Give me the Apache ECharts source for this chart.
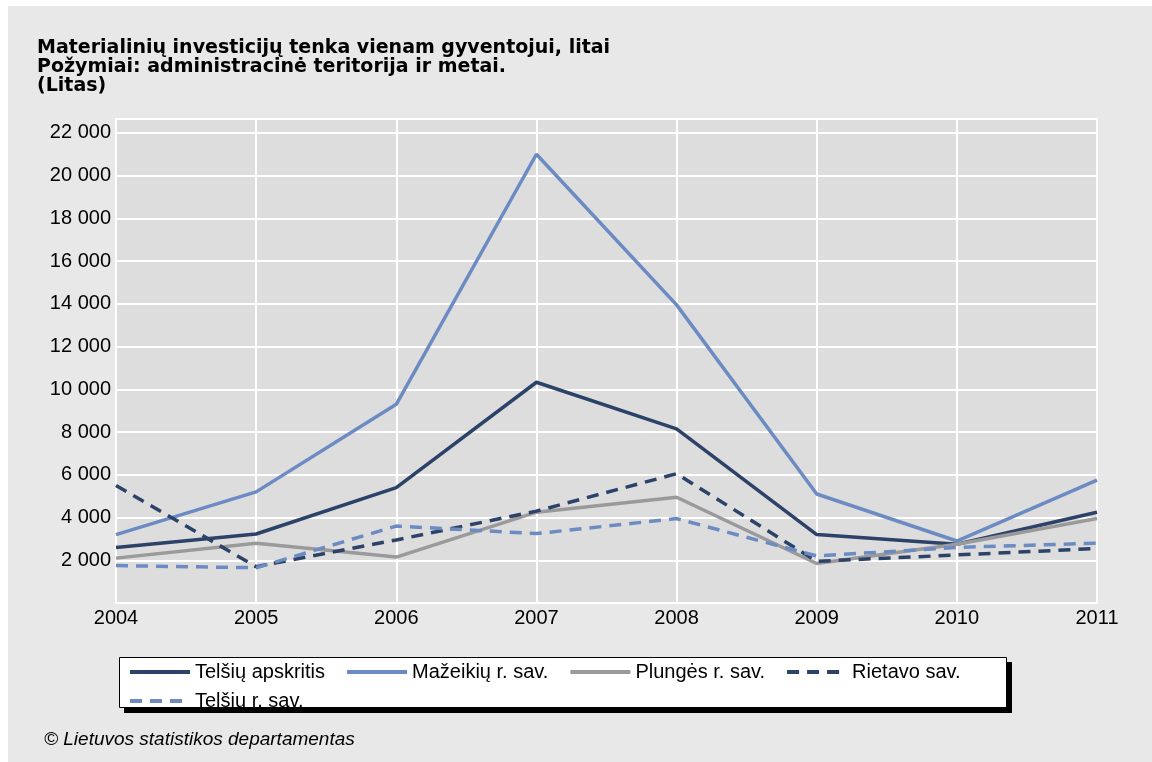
<!DOCTYPE html>
<html>
<head>
<meta charset="utf-8">
<script src="https://cdn.jsdelivr.net/npm/echarts@6/dist/echarts.min.js"></script>
<style>
  html, body { margin: 0; padding: 0; background: #fff; }
  #chart { width: 1152px; height: 762px; }
</style>
</head>
<body>
<div id="chart"></div>
<script>
// years on the x axis
const years = ['2004', '2005', '2006', '2007', '2008', '2009', '2010', '2011'];

// values (litai per resident)
const telsiuApskritis = [2600, 3230, 5400, 10330, 8150, 3200, 2750, 4250];
const mazeikiu = [3200, 5200, 9300, 21000, 13950, 5100, 2900, 5750];
const plunges = [2100, 2800, 2150, 4250, 4950, 1850, 2750, 3950];
const rietavo = [5500, 1700, 2950, 4300, 6050, 1950, 2250, 2550];
const telsiuRaj = [1750, 1650, 3600, 3250, 3950, 2200, 2600, 2800];

const seriesNames = ['Telšių apskritis', 'Mažeikių r. sav.', 'Plungės r. sav.', 'Rietavo sav.', 'Telšių r. sav.'];

const NAVY = '#2c4268';
const LIGHT = '#6b8bc2';
const GRAY = '#9a9a9a';
const FONT = '"Liberation Sans", Arial, sans-serif';

const chart = echarts.init(document.getElementById('chart'), null, { renderer: 'canvas' });

function lineSeries(name, data, color, dashed) {
  return {
    name: name,
    type: 'line',
    data: data,
    symbol: 'none',
    color: color,
    lineStyle: { color: color, width: 3.5, type: dashed ? [12, 8] : 'solid' },
    emphasis: { disabled: true },
    animation: false
  };
}

const legendCommon = {
  orient: 'horizontal',
  itemWidth: 60,
  itemHeight: 10,
  itemGap: 20,
  itemStyle: { opacity: 0 },
  lineStyle: { width: 4 },
  textStyle: { fontFamily: FONT, fontSize: 20, color: '#000' },
  selectedMode: false,
  padding: 0
};

const option = {
  backgroundColor: '#e8e8e8',
  animation: false,
  title: {
    text: 'Materialinių investicijų tenka vienam gyventojui, litai\nPožymiai: administracinė teritorija ir metai.\n(Litas)',
    left: 37,
    top: 39,
    padding: 0,
    textStyle: { fontFamily: '"DejaVu Sans", ' + FONT, fontSize: 19, fontWeight: 'bold', color: '#000', lineHeight: 19 }
  },
  graphic: [
    { type: 'rect', z: -1, shape: { x: 0, y: 0, width: 1152, height: 6 }, style: { fill: '#fff' } },
    { type: 'rect', z: -1, shape: { x: 0, y: 0, width: 8, height: 762 }, style: { fill: '#fff' } },
    { type: 'rect', z: 0, shape: { x: 124, y: 662, width: 888, height: 51 }, style: { fill: '#000' } },
    { type: 'rect', z: 0, shape: { x: 119.5, y: 657.5, width: 887, height: 50 }, style: { fill: '#fff', stroke: '#000', lineWidth: 1 } },
    {
      type: 'text', left: 44, top: 730,
      style: { text: '© Lietuvos statistikos departamentas', font: 'italic 19px ' + FONT, fill: '#000' }
    }
  ],
  legend: [
    Object.assign({}, legendCommon, { data: seriesNames.slice(0, 4), left: 128, top: 662 }),
    Object.assign({}, legendCommon, { data: seriesNames.slice(4), left: 128, top: 691 })
  ],
  grid: {
    left: 116, right: 55, top: 119, bottom: 159,
    show: true, backgroundColor: '#dddddd', borderColor: '#ffffff', borderWidth: 2,
    containLabel: false
  },
  xAxis: {
    type: 'category',
    data: years,
    boundaryGap: false,
    axisLine: { show: false },
    axisTick: { show: false },
    axisLabel: { fontFamily: FONT, fontSize: 20, color: '#000', margin: 5 },
    splitLine: { show: true, lineStyle: { color: '#ffffff', width: 2 } }
  },
  yAxis: {
    type: 'value',
    min: 0,
    max: 22650,
    interval: 2000,
    axisLine: { show: false },
    axisTick: { show: false },
    axisLabel: {
      fontFamily: FONT, fontSize: 20, color: '#000', margin: 5,
      formatter: function (v) {
        if (v === 0 || v % 2000 !== 0) return '';
        return String(v).replace(/\B(?=(\d{3})+(?!\d))/g, ' ');
      }
    },
    splitLine: { show: true, lineStyle: { color: '#ffffff', width: 2 } }
  },
  series: [
    lineSeries(seriesNames[0], telsiuApskritis, NAVY, false),
    lineSeries(seriesNames[1], mazeikiu, LIGHT, false),
    lineSeries(seriesNames[2], plunges, GRAY, false),
    lineSeries(seriesNames[3], rietavo, NAVY, true),
    lineSeries(seriesNames[4], telsiuRaj, LIGHT, true)
  ]
};

chart.setOption(option);
</script>
</body>
</html>
